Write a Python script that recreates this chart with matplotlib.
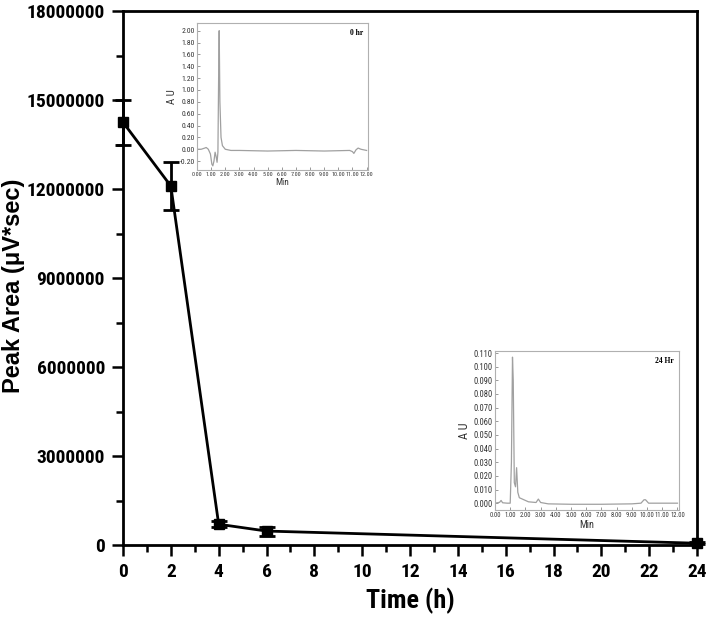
import matplotlib
matplotlib.use('Agg')
import matplotlib.pyplot as plt
from matplotlib import font_manager as fm
from matplotlib.ticker import MultipleLocator, FormatStrFormatter

# main series
time_h = [0, 2, 4, 6, 24]
peak_area = [14250000, 12100000, 700000, 470000, 60000]
peak_err = [750000, 820000, 100000, 150000, 40000]

y_ticks = [0, 3000000, 6000000, 9000000, 12000000, 15000000, 18000000]
x_ticks = [0, 2, 4, 6, 8, 10, 12, 14, 16, 18, 20, 22, 24]

# chromatogram 0 hr (min, AU)
chrom0_t = [0.0, 0.3, 0.55, 0.65, 0.8, 0.95, 1.05, 1.12, 1.2, 1.28, 1.35, 1.42, 1.48,
            1.53, 1.57, 1.62, 1.7, 1.8, 2.0, 2.4, 3.0, 5.0, 7.0, 9.0, 10.8, 11.0,
            11.1, 11.25, 11.4, 11.6, 12.0]
chrom0_au = [0.0, 0.0, 0.02, 0.03, 0.0, -0.08, -0.25, -0.28, -0.2, -0.05, -0.12, -0.22, -0.05,
             1.2, 2.00, 0.8, 0.2, 0.06, 0.0, -0.02, -0.02, -0.03, -0.02, -0.03, -0.02, -0.04,
             -0.07, -0.01, 0.02, 0.0, -0.02]

# chromatogram 24 hr (min, AU)
chrom24_t = [0.0, 0.3, 0.4, 0.5, 0.8, 1.0, 1.08, 1.15, 1.2, 1.27, 1.35, 1.42, 1.5,
             1.6, 1.8, 2.2, 2.7, 2.85, 3.0, 3.5, 5.0, 7.0, 9.0, 9.6, 9.8, 9.9, 10.1, 11.0, 12.0]
chrom24_au = [0.0, 0.0006, 0.002, 0.0003, 0.0, 0.0, 0.03, 0.107, 0.09, 0.015, 0.012, 0.026, 0.008,
              0.004, 0.003, 0.001, 0.0005, 0.003, 0.0005, -0.0005, -0.0008, -0.0008, -0.0005, 0.0,
              0.0025, 0.0025, 0.0, 0.0, 0.0]


def have_font(name):
    try:
        fm.findfont(fm.FontProperties(family=name), fallback_to_default=False)
        return True
    except Exception:
        return False


# condensed face if one is around, else plain sans a bit smaller
narrow = None
for f in ['Liberation Sans Narrow', 'Roboto Condensed', 'Open Sans Condensed', 'Arial Narrow']:
    if have_font(f):
        narrow = f
        break
if narrow:
    tick_font, tick_size, small_scale = [narrow, 'DejaVu Sans'], 14, 1.0
else:
    tick_font, tick_size, small_scale = ['Liberation Sans', 'DejaVu Sans'], 11.5, 0.82

fig = plt.figure(figsize=(7.08, 6.25), dpi=100)
ax = fig.add_axes([123/708, 80/625, 574/708, 534/625])

ax.errorbar(time_h, peak_area, yerr=peak_err, color='black', lw=2, marker='s', ms=7,
            capsize=5.5, capthick=2, elinewidth=2, clip_on=False, zorder=5)

ax.set_xlim(0, 24)
ax.set_ylim(0, 18000000)
ax.set_xticks(x_ticks)
ax.set_xticklabels([str(v) for v in x_ticks], family=tick_font, fontweight='bold', fontsize=tick_size)
ax.set_yticks(y_ticks)
ax.set_yticklabels([str(v) for v in y_ticks], family=tick_font, fontweight='bold', fontsize=tick_size)
ax.xaxis.set_minor_locator(MultipleLocator(1))
ax.yaxis.set_minor_locator(MultipleLocator(1500000))
ax.tick_params(which='major', direction='out', length=8, width=1.8, pad=5)
ax.tick_params(which='minor', direction='out', length=5, width=1.8)
for s in ax.spines.values():
    s.set_linewidth(2)
ax.set_xlabel('Time (h)', family=tick_font, fontweight='bold', fontsize=tick_size * 1.35)
ax.xaxis.set_label_coords(0.5, -0.08)
ax.set_ylabel('Peak Area (\u03bcV*sec)', family=['Liberation Sans', 'DejaVu Sans'],
              fontweight='bold', fontsize=17)
ax.yaxis.set_label_coords(-0.17, 0.485)

gray = '#a0a0a0'
small = 5.6 * small_scale


def style_inset(a, label, size, xsize):
    for s in a.spines.values():
        s.set_color('#b0b0b0')
        s.set_linewidth(0.8)
    a.tick_params(direction='in', length=2, width=0.6, color='#888888', labelsize=size, pad=1.5)
    a.tick_params(axis='x', labelsize=xsize)
    for lab in a.get_xticklabels() + a.get_yticklabels():
        lab.set_family(tick_font)
        lab.set_color('#333333')
    a.set_xlabel('Min', family=tick_font, fontsize=size * 1.2, color='#333333', labelpad=1)
    a.set_ylabel('A U', family=tick_font, fontsize=size * 1.4, color='#333333', labelpad=2)
    a.text(0.97, 0.96, label, transform=a.transAxes, ha='right', va='top',
           family=['Liberation Serif', 'DejaVu Serif'], fontweight='bold', fontsize=5.5)


ins0 = fig.add_axes([197/708, (625-170)/625, 171/708, 147/625])
ins0.plot(chrom0_t, chrom0_au, color=gray, lw=0.9)
ins0.set_xlim(0, 12.1)
ins0.set_ylim(-0.35, 2.13)
ins0.xaxis.set_major_locator(MultipleLocator(1))
ins0.yaxis.set_major_locator(MultipleLocator(0.2))
ins0.xaxis.set_major_formatter(FormatStrFormatter('%.2f'))
ins0.yaxis.set_major_formatter(FormatStrFormatter('%.2f'))
style_inset(ins0, '0 hr', small, small * 0.78)

ins24 = fig.add_axes([495/708, (625-510)/625, 184/708, 159/625])
ins24.plot(chrom24_t, chrom24_au, color=gray, lw=0.9)
ins24.set_xlim(0, 12.1)
ins24.set_ylim(-0.005, 0.1115)
ins24.xaxis.set_major_locator(MultipleLocator(1))
ins24.yaxis.set_major_locator(MultipleLocator(0.01))
ins24.xaxis.set_major_formatter(FormatStrFormatter('%.2f'))
ins24.yaxis.set_major_formatter(FormatStrFormatter('%.3f'))
style_inset(ins24, '24 Hr', small * 1.1, small * 0.84)

fig.savefig('out.png', dpi=100)
